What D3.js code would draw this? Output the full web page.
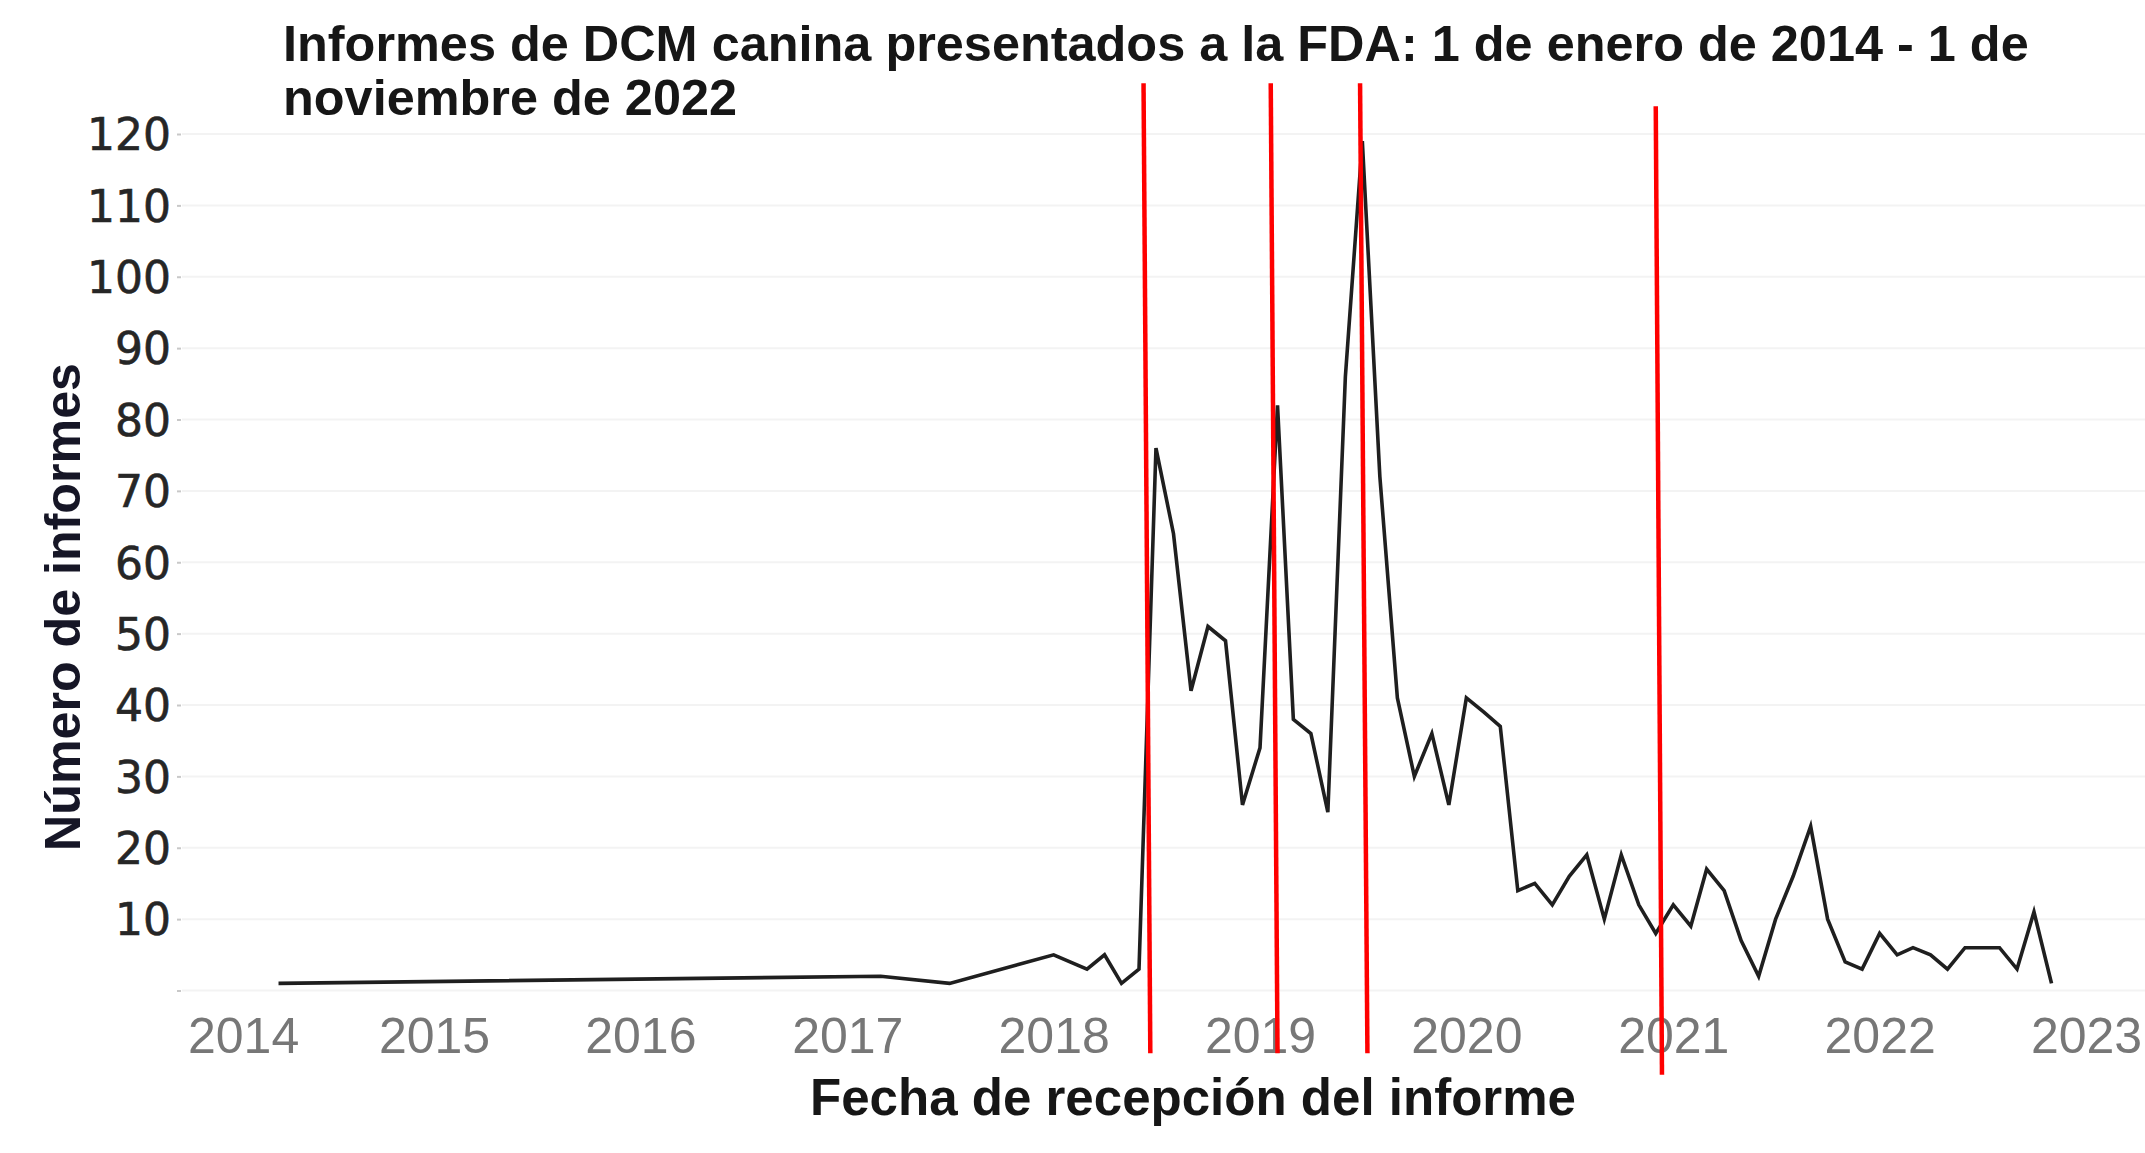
<!DOCTYPE html>
<html><head><meta charset="utf-8">
<script src="https://cdn.jsdelivr.net/npm/d3@7"></script>
<style>html,body{margin:0;padding:0;background:#fff;} svg{display:block;}</style>
</head><body>
<svg id="chart" width="2145" height="1153"></svg>
<script>
// ---- data ----
const months = ["2014-04","2017-03","2017-07","2018-01","2018-03","2018-04","2018-05","2018-06",
  "2018-07","2018-08","2018-09","2018-10","2018-11","2018-12",
  "2019-01","2019-02","2019-03","2019-04","2019-05","2019-06","2019-07","2019-08","2019-09","2019-10","2019-11","2019-12",
  "2020-01","2020-02","2020-03","2020-04","2020-05","2020-06","2020-07","2020-08","2020-09","2020-10","2020-11","2020-12",
  "2021-01","2021-02","2021-03","2021-04","2021-05","2021-06","2021-07","2021-08","2021-09","2021-10","2021-11","2021-12",
  "2022-01","2022-02","2022-03","2022-04","2022-05","2022-06","2022-07","2022-08","2022-09","2022-10","2022-11"];
const reports = [1,2,1,5,3,5,1,3,
  76,64,42,51,49,26,
  34,82,38,36,25,86,119,72,41,30,36,26,
  41,39,37,14,15,12,16,19,10,19,12,8,
  12,9,17,14,7,2,10,16,23,10,4,3,
  8,5,6,5,3,6,6,6,3,11,1];
const yearTicks = [2014,2015,2016,2017,2018,2019,2020,2021,2022,2023];
const countTicks = [0,10,20,30,40,50,60,70,80,90,100,110,120];
const chartTitle = ["Informes de DCM canina presentados a la FDA: 1 de enero de 2014 - 1 de", "noviembre de 2022"];
const xAxisTitle = "Fecha de recepción del informe";
const yAxisTitle = "Número de informes";
// hand-drawn red marker lines (dates and values at their two ends)
const markerTopDates = ["2018-06-09","2019-01-20","2019-06-27","2020-12-01"];
const markerBottomDates = ["2018-06-21","2019-02-01","2019-07-10","2020-12-12"];
const markerTopValues = [127.1,127.1,127.1,123.9];
const markerBottomValues = [-8.8,-8.8,-8.8,-11.8];

// ---- chart ----
const svg = d3.select("#chart");
const W = 2145, H = 1153;
const plotLeft = 182;
const parseMonth = d3.timeParse("%Y-%m");
const parseDay = d3.timeParse("%Y-%m-%d");
const series = months.map((m,i)=>({date: parseMonth(m), value: reports[i]}));

const x = d3.scaleTime().domain([new Date(2015,0,1), new Date(2023,0,1)]).range([434, 2086]);
const y = d3.scaleLinear().domain([0,120]).range([990.5, 134]);

// gridlines
svg.append("g").selectAll("line").data(countTicks).join("line")
  .attr("x1", plotLeft).attr("x2", W)
  .attr("y1", d=>y(d)).attr("y2", d=>y(d))
  .attr("stroke", "#f3f3f3").attr("stroke-width", 2);

// y axis
const yAxis = svg.append("g").attr("transform", `translate(${plotLeft-1},0)`)
  .call(d3.axisLeft(y).tickValues(countTicks).tickSize(4).tickPadding(6)
    .tickFormat(d => d === 0 ? "" : d));
yAxis.select(".domain").remove();
yAxis.selectAll(".tick line").attr("stroke", "#c8c8c8").attr("stroke-width", 2);
yAxis.selectAll(".tick text")
  .attr("font-family", "'DejaVu Sans', sans-serif").attr("font-size", 44)
  .attr("fill", "#262626").attr("stroke", "#262626").attr("stroke-width", 0.6)
  .attr("dy", "0.36em");

// x axis labels
const xAxis = svg.append("g")
  .call(d3.axisBottom(x).tickValues(yearTicks.map(yr=>new Date(yr,0,1))).tickSize(0)
    .tickFormat(d3.timeFormat("%Y")));
xAxis.select(".domain").remove();
xAxis.selectAll(".tick text")
  .attr("font-family", "'Liberation Sans', Arial, sans-serif").attr("font-size", 50)
  .attr("fill", "#777777").attr("y", 1053).attr("dy", 0);
// keep first label inside plot area (as the original tool does)
xAxis.selectAll(".tick").each(function(){
  const t = d3.select(this).select("text");
  const w = t.node().getComputedTextLength();
  const tr = this.getAttribute("transform");
  const tx = +tr.match(/translate\(([-\d.]+)/)[1];
  if (tx - w/2 < plotLeft + 6) t.attr("x", plotLeft + 6 + w/2 - tx);
});

// data line
svg.append("path").datum(series)
  .attr("fill", "none").attr("stroke", "#1f1f1f").attr("stroke-width", 3.6)
  .attr("stroke-linejoin", "miter")
  .attr("d", d3.line().x(d=>x(d.date)).y(d=>y(d.value)));

// red markers
svg.append("g").selectAll("line").data(markerTopDates).join("line")
  .attr("x1", (d,i)=>x(parseDay(d))).attr("y1", (d,i)=>y(markerTopValues[i]))
  .attr("x2", (d,i)=>x(parseDay(markerBottomDates[i]))).attr("y2", (d,i)=>y(markerBottomValues[i]))
  .attr("stroke", "#ff0000").attr("stroke-width", 4.5);

// helper to fit text width
function fit(sel, target){
  const w = sel.node().getComputedTextLength();
  const fs = parseFloat(sel.attr("font-size"));
  const nfs = fs*target/w;
  sel.attr("font-size", nfs);
  return nfs;
}

// title
const t1 = svg.append("text").attr("x", 283).attr("y", 61)
  .attr("font-family", "'Liberation Sans', Arial, sans-serif").attr("font-weight", "bold")
  .attr("font-size", 42).attr("fill", "#161616").text(chartTitle[0]);
const tfs = fit(t1, 1746);
svg.append("text").attr("x", 283).attr("y", 115)
  .attr("font-family", "'Liberation Sans', Arial, sans-serif").attr("font-weight", "bold")
  .attr("font-size", tfs).attr("fill", "#161616").text(chartTitle[1]);

// x title
const xt = svg.append("text").attr("x", 1193).attr("y", 1115).attr("text-anchor", "middle")
  .attr("font-family", "'Liberation Sans', Arial, sans-serif").attr("font-weight", "bold")
  .attr("font-size", 46).attr("fill", "#161616").text(xAxisTitle);
fit(xt, 766);

// y title
const yt = svg.append("text").attr("transform", "translate(80,607) rotate(-90)")
  .attr("text-anchor", "middle")
  .attr("font-family", "'Liberation Sans', Arial, sans-serif").attr("font-weight", "bold")
  .attr("font-size", 46).attr("fill", "#161626").text(yAxisTitle);
fit(yt, 488);
</script>
</body></html>
